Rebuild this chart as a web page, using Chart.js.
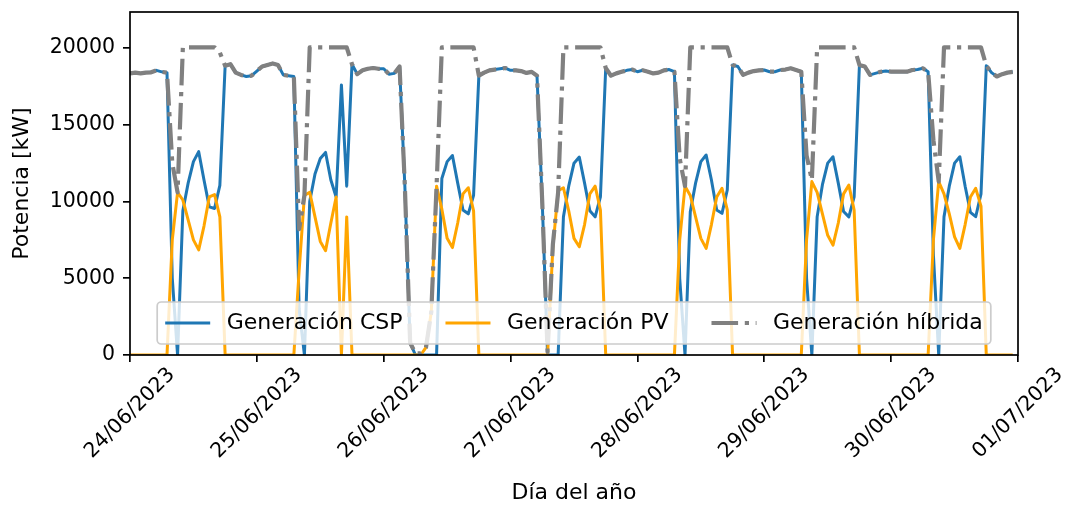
<!DOCTYPE html>
<html>
<head>
<meta charset="utf-8">
<script src="https://cdn.jsdelivr.net/npm/chart.js@4.4.0/dist/chart.umd.min.js"></script>
<style>
  html, body { margin: 0; padding: 0; background: #fff; }
</style>
</head>
<body>
<canvas id="grafico" width="1068" height="506"></canvas>
<script>
// valores horarios desde 24/06/2023 00:00 hasta 30/06/2023 23:00 (kW)
const generacionCSP = [
  18350, 18400, 18350, 18400, 18420, 18550, 18450, 18400, 5000, 0, 9400, 11200, 12600, 13250, 11400, 9650, 9550, 11050, 18850, 18950, 18400, 18250, 18150, 18200,
  18500, 18800, 18900, 19000, 18900, 18250, 18200, 18150, 3000, 0, 10000, 11800, 12800, 13200, 11400, 10300, 17600, 11000, 18950, 18300, 18550, 18650, 18700, 18650,
  18650, 18300, 18350, 18800, 11000, 800, 0, 0, 0, 0, 0, 11500, 12600, 13000, 11200, 9450, 9200, 10400, 18200, 18400, 18550, 18600, 18650, 18700,
  18550, 18550, 18500, 18380, 18450, 18200, 9900, 0, 0, 0, 9000, 11000, 12500, 12900, 11200, 9400, 9000, 10300, 18700, 18200, 18350, 18450, 18550, 18600,
  18460, 18550, 18460, 18350, 18400, 18550, 18600, 18460, 5000, 0, 9340, 11200, 12600, 13030, 11400, 9450, 9230, 10750, 18900, 18800, 18250, 18400, 18500, 18550,
  18570, 18460, 18460, 18570, 18600, 18680, 18570, 18460, 5000, 0, 9000, 11100, 12500, 12920, 11200, 9350, 9000, 10300, 18900, 18800, 18250, 18350, 18450, 18500,
  18460, 18460, 18460, 18460, 18570, 18600, 18680, 18460, 6500, 0, 9000, 11000, 12500, 12920, 11000, 9300, 9010, 10500, 18850, 18400, 18150, 18300, 18400, 18450
];
const generacionPV = [
  0, 0, 0, 0, 0, 0, 0, 0, 7500, 10600, 10100, 8800, 7500, 6850, 8400, 10300, 10450, 9000, 0, 0, 0, 0, 0, 0,
  0, 0, 0, 0, 0, 0, 0, 0, 5500, 10400, 10600, 9000, 7400, 6800, 8600, 10300, 0, 9000, 0, 0, 0, 0, 0, 0,
  0, 0, 0, 0, 0, 0, 0, 0, 500, 2800, 11000, 9500, 7600, 7000, 8600, 10500, 10900, 9400, 0, 0, 0, 0, 0, 0,
  0, 0, 0, 0, 0, 0, 0, 0, 7000, 10700, 10900, 9400, 7600, 7050, 8500, 10500, 11000, 9450, 0, 0, 0, 0, 0, 0,
  0, 0, 0, 0, 0, 0, 0, 0, 7500, 11000, 10400, 9000, 7600, 6950, 8500, 10300, 10860, 9450, 0, 0, 0, 0, 0, 0,
  0, 0, 0, 0, 0, 0, 0, 0, 7500, 11300, 10600, 9200, 7800, 7160, 8600, 10500, 11070, 9450, 0, 0, 0, 0, 0, 0,
  0, 0, 0, 0, 0, 0, 0, 0, 7500, 11300, 10500, 9200, 7700, 6950, 8500, 10300, 10860, 9700, 0, 0, 0, 0, 0, 0
];
const generacionHibrida = [
  18350, 18400, 18350, 18400, 18420, 18550, 18450, 18400, 12500, 10600, 20050, 20050, 20050, 20050, 20050, 20050, 20050, 19700, 18850, 18950, 18400, 18250, 18150, 18200,
  18500, 18800, 18900, 19000, 18900, 18250, 18200, 18150, 8200, 10400, 20050, 20050, 20050, 20050, 20050, 20050, 20050, 20050, 18950, 18300, 18550, 18650, 18700, 18650,
  18650, 18300, 18350, 18800, 11000, 800, 100, 100, 500, 2800, 11000, 20050, 20050, 20050, 20050, 20050, 20050, 20050, 18200, 18400, 18550, 18600, 18650, 18700,
  18550, 18550, 18500, 18380, 18450, 18200, 9900, 200, 7200, 10600, 20050, 20050, 20050, 20050, 20050, 20050, 20050, 20050, 18700, 18200, 18350, 18450, 18550, 18600,
  18460, 18550, 18460, 18350, 18400, 18550, 18600, 18460, 12800, 11000, 20050, 20050, 20050, 20050, 20050, 20050, 20050, 20050, 18900, 18800, 18250, 18400, 18500, 18550,
  18570, 18460, 18460, 18570, 18600, 18680, 18570, 18460, 13000, 11400, 20050, 20050, 20050, 20050, 20050, 20050, 20050, 20050, 18900, 18800, 18250, 18350, 18450, 18500,
  18460, 18460, 18460, 18460, 18570, 18600, 18680, 18460, 14000, 11300, 20050, 20050, 20050, 20050, 20050, 20050, 20050, 20050, 18850, 18400, 18150, 18300, 18400, 18450
];
const etiquetasX = ['24/06/2023', '25/06/2023', '26/06/2023', '27/06/2023', '28/06/2023', '29/06/2023', '30/06/2023', '01/07/2023'];
const ticksY = [0, 5000, 10000, 15000, 20000];

const FUENTE = '"DejaVu Sans", sans-serif';
const FS = 20.5;      // marcas
const FS_EJE = 22;    // titulos de eje
const FS_LEY = 22;    // leyenda
const fuente = { family: FUENTE, size: FS };
const fuenteEje = { family: FUENTE, size: FS_EJE };

// hora desde el inicio como coordenada x
const aPuntos = serie => serie.map((v, i) => ({ x: i, y: v }));

const marco = {
    id: 'marco',
    afterDatasetsDraw(chart) {
        const { ctx, chartArea: a } = chart;
        ctx.save();
        ctx.strokeStyle = '#000';
        ctx.lineWidth = 1.7;
        ctx.strokeRect(a.left, a.top, a.right - a.left, a.bottom - a.top);

        /* leyenda abajo al centro */
        ctx.font = `${FS_LEY}px ${FUENTE}`;
        const hl = 45, tp = 16.5, cs = 43, bp = 8;
        const items = chart.data.datasets.map(ds => ({ ds, w: ctx.measureText(ds.label).width }));
        const anchoCont = items.reduce((s, it) => s + hl + tp + it.w, 0) + cs * (items.length - 1);
        const bw = anchoCont + 2 * bp, bh = 42;
        const bx = (a.left + a.right) / 2 - bw / 2;
        const by = a.bottom - 11 - bh;
        ctx.beginPath();
        ctx.roundRect(bx, by, bw, bh, 4);
        ctx.fillStyle = 'rgba(255,255,255,0.8)';
        ctx.fill();
        ctx.strokeStyle = '#cccccc';
        ctx.lineWidth = 1.7;
        ctx.stroke();
        let x = bx + bp;
        const y = by + bh / 2;
        items.forEach(it => {
            ctx.save();
            ctx.strokeStyle = it.ds.borderColor;
            ctx.lineWidth = it.ds.borderWidth;
            ctx.setLineDash(it.ds.borderDash || []);
            ctx.beginPath();
            ctx.moveTo(x, y);
            ctx.lineTo(x + hl, y);
            ctx.stroke();
            ctx.restore();
            x += hl + tp;
            ctx.fillStyle = '#000';
            ctx.textAlign = 'left';
            ctx.textBaseline = 'middle';
            ctx.fillText(it.ds.label, x, y);
            x += it.w + cs;
        });
        ctx.restore();
    },
    afterDraw(chart) {
        // etiquetas de fecha giradas 45 grados, centradas en cada marca
        const { ctx, scales: { x } } = chart;
        ctx.save();
        ctx.font = `${FS}px ${FUENTE}`;
        ctx.fillStyle = '#000';
        ctx.textAlign = 'center';
        ctx.textBaseline = 'middle';
        const arriba = chart.chartArea.bottom + 8;
        x.ticks.forEach(t => {
            const texto = etiquetasX[Math.round(t.value / 24)];
            const px = x.getPixelForValue(t.value);
            const w = ctx.measureText(texto).width;
            const mitad = (w + FS * 1.17) * Math.SQRT1_2 / 2;
            ctx.save();
            ctx.translate(px, arriba + mitad);
            ctx.rotate(-Math.PI / 4);
            ctx.fillText(texto, 0, 0);
            ctx.restore();
        });
        ctx.restore();
    }
};

const lineaBase = { pointRadius: 0, tension: 0, clip: 0, borderJoinStyle: 'round', fill: false };

new Chart(document.getElementById('grafico'), {
    type: 'line',
    data: {
        datasets: [
            { ...lineaBase, label: 'Generación CSP', data: aPuntos(generacionCSP), borderColor: '#1f77b4', borderWidth: 3, order: 3 },
            { ...lineaBase, label: 'Generación PV', data: aPuntos(generacionPV), borderColor: '#ffa500', borderWidth: 3, order: 2 },
            { ...lineaBase, label: 'Generación híbrida', data: aPuntos(generacionHibrida), borderColor: '#808080', borderWidth: 4.2, borderDash: [26.6, 6.7, 4.2, 6.7], order: 1 }
        ]
    },
    options: {
        responsive: false,
        animation: false,
        events: [],
        layout: { padding: { top: 12, right: 50, bottom: 0, left: 0 } },
        plugins: { legend: { display: false }, tooltip: { enabled: false } },
        scales: {
            x: {
                type: 'linear',
                min: 0,
                max: 168,
                afterBuildTicks: s => { s.ticks = etiquetasX.map((_, i) => ({ value: i * 24 })); },
                ticks: { display: false },
                grid: { drawOnChartArea: false, drawTicks: true, tickLength: 7, color: '#000', lineWidth: 1.7 },
                border: { display: false },
                title: { display: true, text: 'Día del año', font: fuenteEje, color: '#000', padding: { top: 0, bottom: 0 } },
                afterFit: s => { s.height = 151; s.paddingLeft = 0; s.paddingRight = 0; }
            },
            y: {
                type: 'linear',
                min: 0,
                max: 22350,
                afterBuildTicks: s => { s.ticks = ticksY.map(v => ({ value: v })); },
                ticks: { font: fuente, color: '#000', padding: 8, callback: v => String(v) },
                grid: { drawOnChartArea: false, drawTicks: true, tickLength: 7, color: '#000', lineWidth: 1.7 },
                border: { display: false },
                title: { display: true, text: 'Potencia [kW]', font: fuenteEje, color: '#000', padding: { top: 9, bottom: 0 } },
                afterFit: s => { s.width = 130; s.paddingTop = 0; s.paddingBottom = 0; }
            }
        }
    },
    plugins: [marco]
});
</script>
</body>
</html>
